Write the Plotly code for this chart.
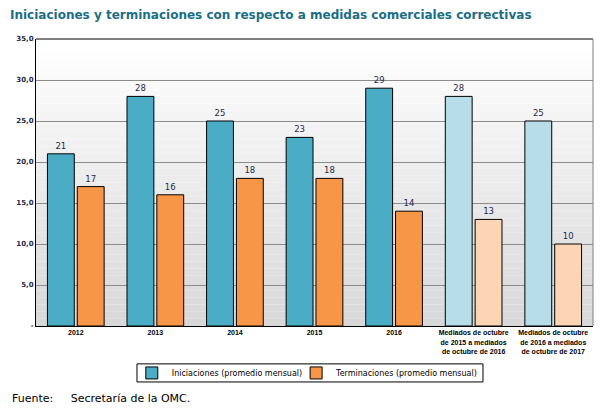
import plotly.graph_objects as go

categories = ["2012", "2013", "2014", "2015", "2016",
              "Mediados de octubre<br>de 2015 a mediados<br>de octubre de 2016",
              "Mediados de octubre<br>de 2016 a mediados<br>de octubre de 2017"]
iniciaciones = [21, 28, 25, 23, 29, 28, 25]
terminaciones = [17, 16, 18, 18, 14, 13, 10]
ytick_vals = [0, 5, 10, 15, 20, 25, 30, 35]
ytick_text = ["-", "5,0", "10,0", "15,0", "20,0", "25,0", "30,0", "35,0"]

ini_colors = ["#4bacc6"] * 5 + ["#b7dde8"] * 2
ter_colors = ["#f79646"] * 5 + ["#fcd5b5"] * 2
FONT = "DejaVu Sans"
NAVY = "#1b2a4a"

fig = go.Figure()
fig.add_trace(go.Bar(
    x=categories, y=iniciaciones, name="Iniciaciones (promedio mensual)",
    marker=dict(color=ini_colors, line=dict(color="#000000", width=1)),
    text=[str(v) for v in iniciaciones], textposition="outside",
    textfont=dict(family=FONT, size=8.5, color=NAVY), cliponaxis=False,
    legend="legend", showlegend=True))
fig.add_trace(go.Bar(
    x=categories, y=terminaciones, name="Terminaciones (promedio mensual)",
    marker=dict(color=ter_colors, line=dict(color="#000000", width=1)),
    text=[str(v) for v in terminaciones], textposition="outside",
    textfont=dict(family=FONT, size=8.5, color=NAVY), cliponaxis=False,
    legend="legend2", showlegend=True))

# gradient background stripes
shapes = []
n = 40
for i in range(n):
    g = int(round(255 - (255 - 216) * (1 - (i + 0.5) / n)))
    shapes.append(dict(type="rect", xref="x domain", yref="y domain",
                       x0=0, x1=1, y0=i / n, y1=(i + 1) / n,
                       fillcolor=f"rgb({g},{g},{g})", line=dict(width=0),
                       layer="below"))
shapes.append(dict(type="line", xref="x domain", yref="y domain",
                   x0=0, x1=1, y0=1, y1=1, line=dict(color="#000000", width=1)))
shapes.append(dict(type="line", xref="x domain", yref="y domain",
                   x0=1, x1=1, y0=0, y1=1, line=dict(color="#808080", width=1)))
# legend box
shapes.append(dict(type="rect", xref="paper", yref="paper",
                   x0=0.1813, x1=0.8025, y0=-0.195, y1=-0.132,
                   line=dict(color="#000000", width=1), fillcolor="rgba(0,0,0,0)"))

legend_common = dict(orientation="h", yanchor="middle", y=-0.1635, xanchor="left",
                     borderwidth=0, bgcolor="rgba(0,0,0,0)", visible=True,
                     font=dict(family=FONT, size=8, color="#000000"), itemwidth=30)

fig.update_layout(
    width=592, height=404,
    margin=dict(l=28, r=7, t=31, b=86, autoexpand=False),
    paper_bgcolor="#ffffff", plot_bgcolor="#ffffff",
    barmode="group", bargap=0.25, bargroupgap=0.1,
    shapes=shapes, showlegend=True,
    font=dict(family=FONT, color=NAVY),
    title=dict(text="<b>Iniciaciones y terminaciones con respecto a medidas comerciales correctivas</b>",
               x=0.0034, xanchor="left", y=0.983, yanchor="middle",
               font=dict(family=FONT, size=12, color="#1a6e86")),
    xaxis=dict(showline=True, linecolor="#000000", linewidth=1, tickangle=0,
               automargin=False,
               tickfont=dict(family="Liberation Sans", size=7, color="#000000", weight="bold"),
               ticks="", showgrid=False),
    yaxis=dict(range=[0, 35], tickvals=ytick_vals, ticktext=ytick_text,
               showline=True, linecolor="#000000", linewidth=1, automargin=False,
               showgrid=True, gridcolor="#8c8c8c", gridwidth=1,
               tickfont=dict(family=FONT, size=7, color=NAVY, weight="bold"),
               ticks="", zeroline=False),
    legend=dict(x=0.172, **legend_common),
    legend2=dict(x=0.467, **legend_common),
    annotations=[dict(text="Fuente:     Secretaría de la OMC.", xref="paper", yref="paper",
                      x=-0.0467, xanchor="left", y=-0.254, yanchor="middle",
                      showarrow=False, font=dict(family=FONT, size=11, color="#000000"))],
)

fig.write_html("out.html")
